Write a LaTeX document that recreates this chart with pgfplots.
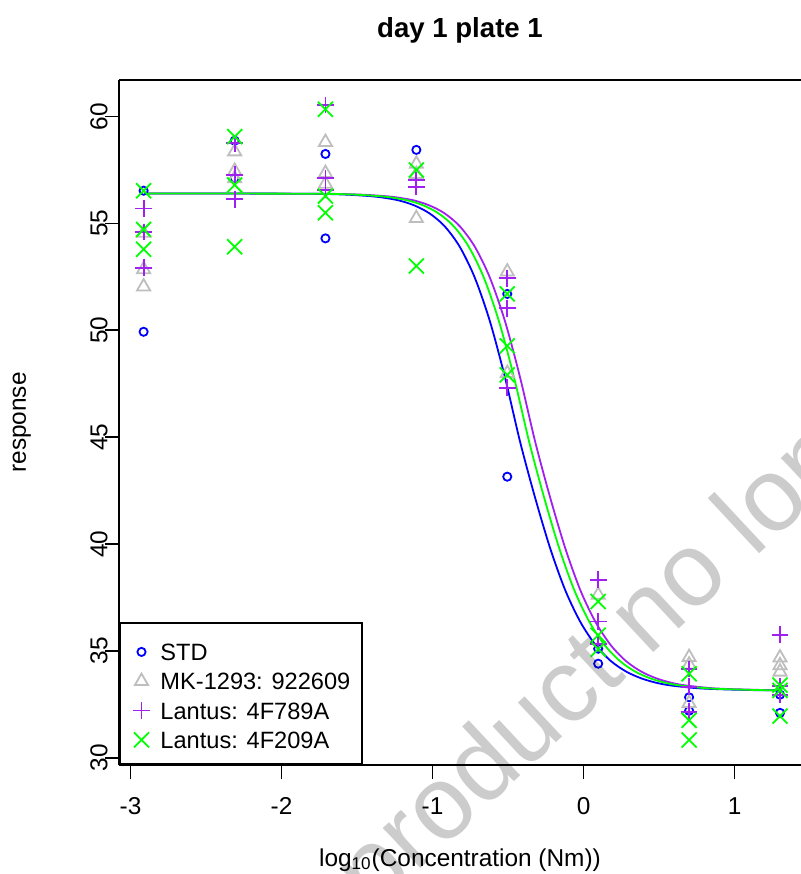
\documentclass[border=0pt]{standalone}
\usepackage{fontspec}
\setmainfont{Liberation Sans}
\usepackage{pgfplots}
\pgfplotsset{compat=1.18}

\definecolor{rblue}{HTML}{0000FF}
\definecolor{rgray}{HTML}{BEBEBE}
\definecolor{rpurple}{HTML}{A020F0}
\definecolor{rgreen}{HTML}{00FF00}

\begin{document}
\begin{tikzpicture}
\begin{axis}[
    scale only axis,
    width=341pt,
    height=342.5pt,
    xmin=-3.076, xmax=1.44,
    ymin=29.66, ymax=61.71,
    axis x line*=box,
    axis y line*=left,
    axis line style={black, line width=0.9pt},
    xtick={-3,-2,-1,0,1},
    xticklabels={-3,-2,-1,0,1},
    ytick={30,35,40,45,50,55,60},
    yticklabels={30,35,40,45,50,55,60},
    xtick pos=left,
    ytick pos=left,
    tick align=outside,
    major tick length=7pt,
    tick style={black, line width=0.9pt},
    ticklabel style={font=\fontsize{12.2}{14}\selectfont, inner sep=0pt},
    xticklabel style={anchor=north},
    xticklabel shift=9pt,
    yticklabel style={rotate=90, anchor=south},
    yticklabel shift=-1.5pt,
    title={day 1 plate 1},
    title style={at={(axis description cs:0.5,1)}, anchor=base, yshift=15pt,
        font=\bfseries\fontsize{13.8}{16}\selectfont, inner sep=0pt},
    xlabel={log\textsubscript{10}(Concentration (Nm))},
    xlabel style={at={(axis description cs:0.5,0)}, anchor=base, yshift=-50.5pt,
        font=\fontsize{12.2}{14}\selectfont, inner sep=0pt},
    ylabel={response},
    every axis y label/.style={at={(axis description cs:0,0.5)}, xshift=-46.5pt,
        rotate=90, anchor=base, font=\fontsize{12.2}{14}\selectfont, inner sep=0pt},
    legend cell align=left,
    legend style={at={(0,0)}, anchor=south west, draw=black, line width=0.9pt, fill=white,
        inner xsep=5.8pt, inner ysep=7.9pt, row sep=3.9pt, column sep=0pt,
        font=\fontsize{11.8}{14}\selectfont,
        nodes={inner sep=0pt, text height=8.5pt, text depth=0pt}},
    legend image code/.code={
        \path[draw=none, fill=none] (0pt,-3.5pt) rectangle (14.5pt,6.5pt);
        \draw[mark repeat=2,mark phase=2,#1] plot coordinates {(0pt,0pt) (5pt,0pt) (14.5pt,0pt)};
    },
]

% STD
\addplot[only marks, mark=o, mark size=2.05pt, rblue, line width=0.9pt] coordinates {
    (-2.913,56.53) (-2.913,49.93)
    (-2.310,58.87) (-2.310,57.11)
    (-1.709,58.25) (-1.709,54.30)
    (-1.107,58.44)
    (-0.505,51.70) (-0.505,43.15)
    (0.097,35.10) (0.097,34.40)
    (0.699,32.83) (0.699,32.20)
    (1.301,32.95) (1.301,32.10)
};
\addlegendentry{STD}
\addplot[rblue, line width=0.9pt, smooth, forget plot] coordinates {
    (-2.91,56.40) (-1.92,56.39) (-1.62,56.36) (-1.42,56.28) (-1.32,56.20)
    (-1.22,56.07) (-1.12,55.84) (-1.02,55.47) (-0.92,54.87) (-0.82,53.91)
    (-0.72,52.46) (-0.62,50.42) (-0.52,47.79) (-0.42,44.78) (-0.32,42.15)
    (-0.22,39.78) (-0.12,37.82) (-0.02,36.34) (0.08,35.27) (0.18,34.53)
    (0.28,34.04) (0.38,33.72) (0.48,33.51) (0.58,33.38) (0.78,33.24)
    (1.08,33.17) (1.30,33.15)
};

% MK-1293
\addplot[only marks, mark=triangle, mark size=3.8pt, rgray, line width=0.9pt] coordinates {
    (-2.913,54.55) (-2.913,52.85) (-2.913,52.04)
    (-2.310,58.36) (-2.310,57.45) (-2.310,57.10)
    (-1.709,58.80) (-1.709,57.35) (-1.709,56.85)
    (-1.107,57.78) (-1.107,57.30) (-1.107,55.24)
    (-0.505,52.74) (-0.505,47.99)
    (0.097,37.62)
    (0.699,34.70) (0.699,34.35) (0.699,32.55)
    (1.301,34.68) (1.301,34.32) (1.301,34.02)
};
\addlegendentry{MK-1293: 922609}

% Lantus 4F789A
\addplot[only marks, mark=+, mark size=4.2pt, rpurple, line width=0.9pt] coordinates {
    (-2.913,55.70) (-2.913,54.60) (-2.913,52.92)
    (-2.310,58.75) (-2.310,57.27) (-2.310,56.13)
    (-1.709,60.54) (-1.709,57.11) (-1.709,56.57)
    (-1.107,57.03) (-1.107,56.72)
    (-0.505,52.43) (-0.505,51.03) (-0.505,47.31)
    (0.097,38.33) (0.097,36.37) (0.097,35.33)
    (0.699,34.15) (0.699,33.32) (0.699,32.15)
    (1.301,35.75) (1.301,33.36) (1.301,32.95)
};
\addlegendentry{Lantus: 4F789A}
\addplot[rpurple, line width=0.9pt, smooth, forget plot] coordinates {
    (-2.91,56.40) (-1.82,56.39) (-1.52,56.36) (-1.32,56.28) (-1.22,56.20)
    (-1.12,56.07) (-1.02,55.84) (-0.92,55.47) (-0.82,54.87) (-0.72,53.91)
    (-0.62,52.46) (-0.52,50.42) (-0.42,47.79) (-0.32,44.78) (-0.22,42.15)
    (-0.12,39.78) (-0.02,37.82) (0.08,36.34) (0.18,35.27) (0.28,34.53)
    (0.38,34.04) (0.48,33.72) (0.58,33.51) (0.68,33.38) (0.88,33.24)
    (1.18,33.17) (1.30,33.15)
};

% Lantus 4F209A
\addplot[only marks, mark=x, mark size=5.3pt, rgreen, line width=0.9pt] coordinates {
    (-2.913,56.53) (-2.913,54.72) (-2.913,53.79)
    (-2.310,59.06) (-2.310,56.80) (-2.310,53.91)
    (-1.709,60.34) (-1.709,56.28) (-1.709,55.50)
    (-1.107,57.50) (-1.107,53.01)
    (-0.505,51.70) (-0.505,49.27) (-0.505,47.91)
    (0.097,37.31) (0.097,35.73) (0.097,35.08)
    (0.699,33.93) (0.699,31.75) (0.699,30.83)
    (1.301,33.40) (1.301,33.15) (1.301,31.95)
};
\addlegendentry{Lantus: 4F209A}
\addplot[rgreen, line width=0.9pt, smooth, forget plot] coordinates {
    (-2.91,56.40) (-1.86,56.39) (-1.56,56.36) (-1.36,56.28) (-1.26,56.20)
    (-1.16,56.07) (-1.06,55.84) (-0.96,55.47) (-0.86,54.87) (-0.76,53.91)
    (-0.66,52.46) (-0.56,50.42) (-0.46,47.79) (-0.36,44.78) (-0.26,42.15)
    (-0.16,39.78) (-0.06,37.82) (0.04,36.34) (0.14,35.27) (0.24,34.53)
    (0.34,34.04) (0.44,33.72) (0.54,33.51) (0.64,33.38) (0.84,33.24)
    (1.14,33.17) (1.30,33.15)
};

\end{axis}

% faint watermark across the picture
\begin{scope}
\clip (-59.5pt,-54.5pt) rectangle (341pt,382.5pt);
\node[rotate=43, anchor=base west, inner sep=0pt, text=black, text opacity=0.2,
    font=\fontsize{52}{56}\selectfont] at (127.2pt,-74.35pt) {product no longer available};
\end{scope}

\pgfresetboundingbox
\path[use as bounding box] (-59.5pt,-54.5pt) rectangle (341pt,382.5pt);
\end{tikzpicture}
\end{document}
